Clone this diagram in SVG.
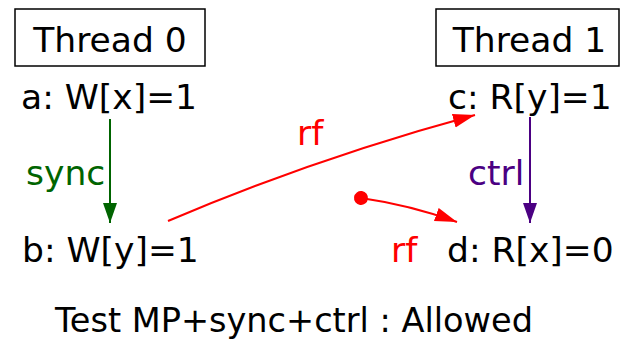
<svg xmlns="http://www.w3.org/2000/svg" width="620" height="350" viewBox="0 0 620 350">
<style>
  text { font-family: "DejaVu Sans", "Liberation Sans", sans-serif; font-size: 34.5px; fill: #000; }
  .box { fill: #fff; stroke: #000; stroke-width: 1.5; }
  .mid { text-anchor: middle; }
  .edge { fill: none; stroke-width: 2; }
  .sync { stroke: #006400; }
  .ctrl { stroke: #4B0082; }
  .rf { stroke: #FF0000; }
  .lsync { fill: #006400; }
  .lctrl { fill: #4B0082; }
  .lrf { fill: #FF0000; }
</style>
<defs>
  <marker id="ah-sync" markerUnits="userSpaceOnUse" markerWidth="22" markerHeight="16" refX="20" refY="7" orient="auto">
    <path d="M0,0 L20,7 L0,14 z" fill="#006400"/>
  </marker>
  <marker id="ah-ctrl" markerUnits="userSpaceOnUse" markerWidth="22" markerHeight="16" refX="20" refY="7" orient="auto">
    <path d="M0,0 L20,7 L0,14 z" fill="#4B0082"/>
  </marker>
  <marker id="ah-rf" markerUnits="userSpaceOnUse" markerWidth="24" markerHeight="16" refX="22" refY="7" orient="auto">
    <path d="M0,0 L22,7 L0,14 z" fill="#FF0000"/>
  </marker>
  <marker id="dot-rf" markerUnits="userSpaceOnUse" markerWidth="16" markerHeight="16" refX="8" refY="8" orient="auto">
    <circle cx="8" cy="8" r="7" fill="#FF0000"/>
  </marker>
</defs>

<g id="thread0">
  <rect class="box" x="15" y="9" width="190" height="57"/>
  <text class="mid" x="110" y="52">Thread 0</text>
</g>
<g id="thread1">
  <rect class="box" x="436" y="9" width="183" height="57"/>
  <text class="mid" x="529.5" y="52">Thread 1</text>
</g>
<g id="a">
  <text x="21" y="109">a: W[x]=1</text>
</g>
<g id="b">
  <text x="22" y="262">b: W[y]=1</text>
</g>
<g id="c">
  <text x="448" y="109">c: R[y]=1</text>
</g>
<g id="d">
  <text x="447" y="262">d: R[x]=0</text>
</g>

<g id="connectors">
  <path class="edge sync" d="M110,119 L110,223" marker-end="url(#ah-sync)"/>
  <text class="lsync" x="26" y="185">sync</text>
  <path class="edge ctrl" d="M530,117 L530,223" marker-end="url(#ah-ctrl)"/>
  <text class="lctrl" x="468" y="185">ctrl</text>
  <path class="edge rf" d="M168,221 Q316,158 475,115" marker-end="url(#ah-rf)"/>
  <text class="lrf" x="297" y="145">rf</text>
  <path class="edge rf" d="M361,198 Q410,205 457,222" marker-start="url(#dot-rf)" marker-end="url(#ah-rf)"/>
  <text class="lrf" x="391" y="262">rf</text>
</g>

<g id="title">
  <text x="55" y="332" textLength="478" lengthAdjust="spacingAndGlyphs">Test MP+sync+ctrl : Allowed</text>
</g>
</svg>
